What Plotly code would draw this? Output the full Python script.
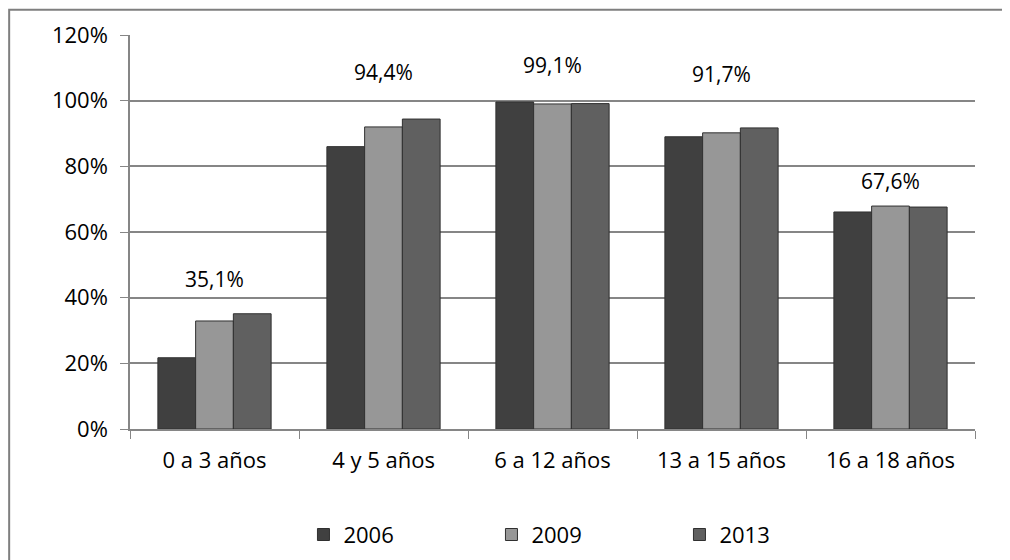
import plotly.graph_objects as go

# datos: cobertura por grupo de edad
categorias = ["0 a 3 años", "4 y 5 años", "6 a 12 años", "13 a 15 años", "16 a 18 años"]
anios = ["2006", "2009", "2013"]
v2006 = [21.7, 86.0, 99.6, 89.0, 66.1]
v2009 = [32.9, 92.0, 99.0, 90.2, 67.9]
v2013 = [35.1, 94.4, 99.1, 91.7, 67.6]
etiquetas = ["35,1%", "94,4%", "99,1%", "91,7%", "67,6%"]

colores = ["#404040", "#979797", "#606060"]
fuente = "Open Sans, Lato, sans-serif"
# separación (px) de cada etiqueta sobre la barra, como en el original
desplaz = [19, 31, 23, 38, 10]

fig = go.Figure()
for nombre, valores, color in zip(anios, [v2006, v2009, v2013], colores):
    fig.add_trace(go.Bar(x=categorias, y=valores, name=nombre,
                         marker=dict(color=color, line=dict(color="#303030", width=1))))

# etiquetas sobre cada grupo (valor 2013)
for cat, val, txt, d in zip(categorias, v2013, etiquetas, desplaz):
    fig.add_annotation(x=cat, y=val, text=txt, showarrow=False,
                       yanchor="bottom", yshift=d,
                       font=dict(family=fuente, size=21, color="#000000"))

# marco exterior del gráfico
fig.add_shape(type="rect", xref="paper", yref="paper",
              x0=-0.143, x1=1.2, y0=-0.5, y1=1.064,
              line=dict(color="#7f7f7f", width=2))

fig.update_layout(
    width=1010, height=560,
    margin=dict(l=122, r=43, t=27, b=134),
    plot_bgcolor="white", paper_bgcolor="white",
    barmode="group", bargap=0.33, bargroupgap=0,
    font=dict(family=fuente, size=22, color="#000000"),
    showlegend=True,
    legend=dict(orientation="h", x=0.539, xanchor="center", y=-0.215, yanchor="top",
                entrywidth=143, font=dict(size=22)),
)
fig.update_yaxes(range=[0, 120], dtick=20, ticksuffix="%",
                 showgrid=True, gridcolor="#868686", gridwidth=1.5,
                 showline=True, linecolor="#868686", linewidth=1.5,
                 ticks="outside", ticklen=8, tickcolor="#868686", zeroline=False,
                 ticklabelstandoff=8)
fig.update_xaxes(showline=True, linecolor="#868686", linewidth=1.5,
                 ticks="outside", tickson="boundaries", ticklen=8, tickcolor="#868686",
                 ticklabelstandoff=11)

fig.write_html("out.html")
